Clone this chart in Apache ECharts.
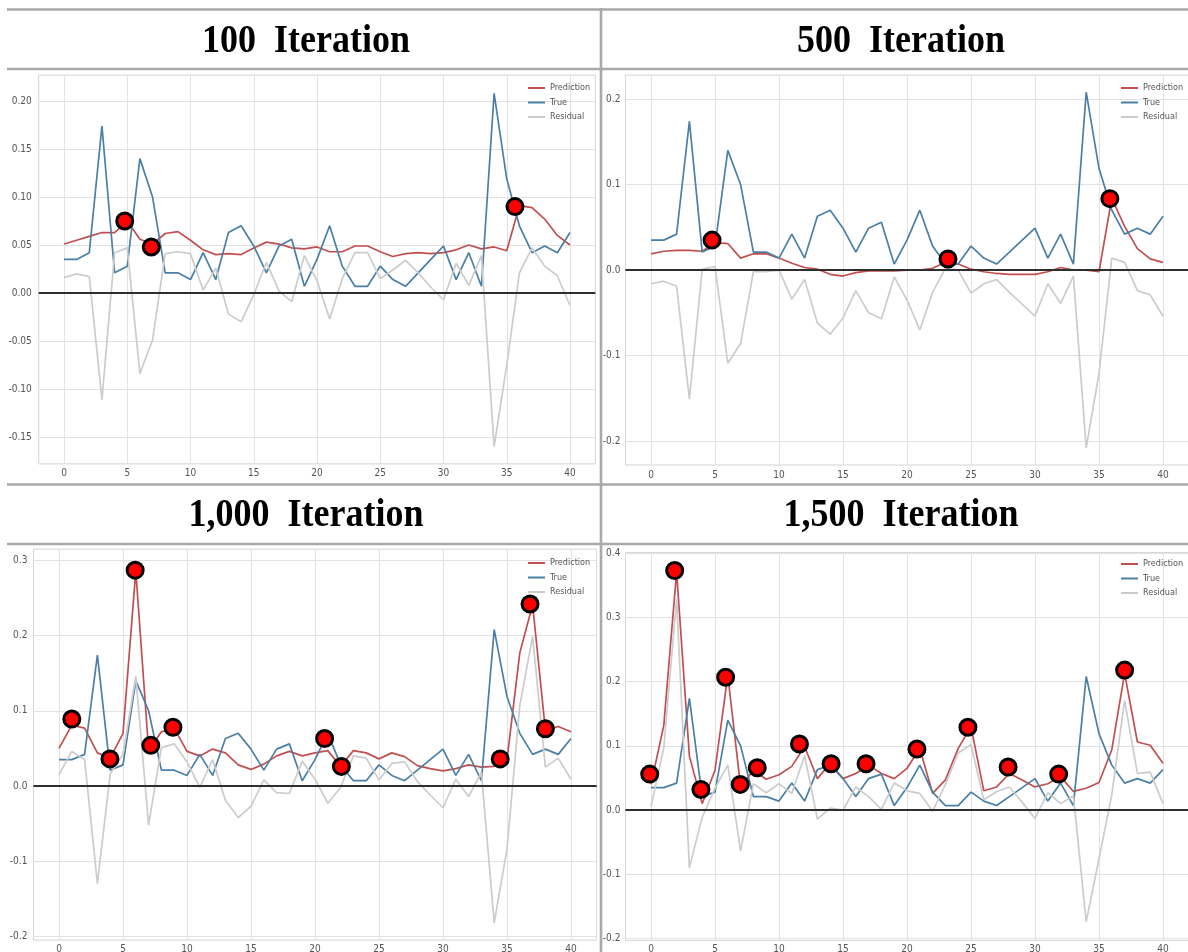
<!DOCTYPE html>
<html>
<head>
<meta charset="utf-8">
<title>Prediction vs True by iteration</title>
<script src="https://cdn.jsdelivr.net/npm/echarts@6/dist/echarts.min.js"></script>
<style>
  html, body { margin: 0; padding: 0; background: #fff; }
  #chart { width: 1188px; height: 952px; }
</style>
</head>
<body>
<div id="chart"></div>
<script>
// same test window in every panel
const trueVals = [
  0.035, 0.035, 0.042, 0.174, 0.021, 0.028, 0.140, 0.100, 0.021, 0.021,
  0.014, 0.042, 0.014, 0.063, 0.070, 0.049, 0.021, 0.049, 0.056, 0.007,
  0.035, 0.070, 0.028, 0.007, 0.007, 0.028, 0.014, 0.007, 0.021, 0.035,
  0.049, 0.014, 0.042, 0.007, 0.208, 0.119, 0.070, 0.042, 0.049, 0.042,
  0.063
]

const pred100 = [
  0.051, 0.055, 0.059, 0.063, 0.063, 0.075, 0.056, 0.051, 0.062, 0.064,
  0.055, 0.045, 0.040, 0.041, 0.040, 0.047, 0.053, 0.051, 0.047, 0.046,
  0.048, 0.043, 0.043, 0.049, 0.049, 0.043, 0.038, 0.041, 0.042, 0.041,
  0.042, 0.045, 0.050, 0.046, 0.048, 0.044, 0.091, 0.089, 0.077, 0.060,
  0.050
]
const resid100 = [
  0.016, 0.020, 0.017, -0.111, 0.042, 0.047, -0.084, -0.049, 0.041, 0.043,
  0.041, 0.003, 0.026, -0.022, -0.030, -0.002, 0.032, 0.002, -0.009, 0.039,
  0.013, -0.027, 0.015, 0.042, 0.042, 0.015, 0.024, 0.034, 0.021, 0.006,
  -0.007, 0.031, 0.008, 0.039, -0.160, -0.075, 0.021, 0.047, 0.028, 0.018,
  -0.013
]
const marks100X = [4.8, 6.9, 35.65]
const marks100Y = [0.075, 0.048, 0.090]

const pred500 = [
  0.019, 0.022, 0.023, 0.023, 0.022, 0.032, 0.031, 0.014, 0.019, 0.019,
  0.014, 0.008, 0.003, 0.001, -0.005, -0.007, -0.003, -0.001, -0.001, -0.001,
  0.000, 0.000, 0.002, 0.009, 0.007, 0.001, -0.002, -0.004, -0.005, -0.005,
  -0.005, -0.002, 0.003, 0.000, 0.000, -0.002, 0.084, 0.051, 0.025, 0.013,
  0.009
]
const resid500 = [
  -0.016, -0.013, -0.019, -0.151, 0.001, 0.004, -0.109, -0.086, -0.002, -0.002,
  0.000, -0.034, -0.011, -0.062, -0.075, -0.056, -0.024, -0.050, -0.057, -0.008,
  -0.035, -0.070, -0.026, 0.002, 0.000, -0.027, -0.016, -0.011, -0.026, -0.040,
  -0.054, -0.016, -0.039, -0.007, -0.208, -0.121, 0.014, 0.009, -0.024, -0.029,
  -0.054
]
const marks500X = [4.77, 23.2, 35.85]
const marks500Y = [0.035, 0.013, 0.0835]

const pred1000 = [
  0.050, 0.081, 0.077, 0.044, 0.037, 0.070, 0.286, 0.048, 0.072, 0.077,
  0.046, 0.040, 0.049, 0.044, 0.028, 0.022, 0.029, 0.040, 0.046, 0.040,
  0.044, 0.047, 0.026, 0.047, 0.044, 0.036, 0.044, 0.039, 0.027, 0.023,
  0.020, 0.023, 0.028, 0.025, 0.026, 0.035, 0.177, 0.241, 0.074, 0.079,
  0.072
]
const resid1000 = [
  0.015, 0.046, 0.035, -0.130, 0.016, 0.042, 0.146, -0.052, 0.051, 0.056,
  0.032, -0.002, 0.035, -0.019, -0.042, -0.027, 0.008, -0.009, -0.010, 0.033,
  0.009, -0.023, -0.002, 0.040, 0.037, 0.008, 0.030, 0.032, 0.006, -0.012,
  -0.029, 0.009, -0.014, 0.018, -0.182, -0.084, 0.107, 0.199, 0.025, 0.037,
  0.009
]
const marks1000X = [1.0, 3.98, 5.95, 7.17, 8.9, 20.75, 22.06, 34.47, 36.8, 38.0]
const marks1000Y = [0.089, 0.036, 0.287, 0.054, 0.078, 0.063, 0.026, 0.036, 0.242, 0.076]

const pred1500 = [
  0.040, 0.132, 0.371, 0.084, 0.010, 0.062, 0.210, 0.036, 0.062, 0.048,
  0.055, 0.068, 0.099, 0.049, 0.073, 0.049, 0.057, 0.070, 0.057, 0.049,
  0.065, 0.096, 0.026, 0.047, 0.096, 0.130, 0.030, 0.036, 0.057, 0.047,
  0.036, 0.041, 0.052, 0.029, 0.034, 0.043, 0.094, 0.213, 0.106, 0.101,
  0.073
]
const resid1500 = [
  0.005, 0.097, 0.329, -0.090, -0.011, 0.034, 0.070, -0.064, 0.041, 0.027,
  0.041, 0.026, 0.085, -0.014, 0.003, 0.000, 0.036, 0.021, 0.001, 0.042,
  0.030, 0.026, -0.002, 0.040, 0.089, 0.102, 0.016, 0.029, 0.036, 0.012,
  -0.013, 0.027, 0.010, 0.022, -0.174, -0.076, 0.024, 0.171, 0.057, 0.059,
  0.010
]
const marks1500X = [-0.1, 1.85, 3.9, 5.83, 6.97, 8.3, 11.6, 14.07, 16.8, 20.78, 24.76, 27.9, 31.85, 37.0]
const marks1500Y = [0.056, 0.373, 0.032, 0.207, 0.040, 0.066, 0.103, 0.072, 0.072, 0.095, 0.129, 0.067, 0.056, 0.218]

const panelTitles = ['100  Iteration', '500  Iteration', '1,000  Iteration', '1,500  Iteration']
const seriesNames = ['Prediction', 'True', 'Residual']
const xTicks = [0, 5, 10, 15, 20, 25, 30, 35, 40]
const yTicks100 = [-0.15, -0.10, -0.05, 0, 0.05, 0.10, 0.15, 0.20]
const yTicks500 = [-0.2, -0.1, 0, 0.1, 0.2]
const yTicks1000 = [-0.2, -0.1, 0, 0.1, 0.2, 0.3]
const yTicks1500 = [-0.2, -0.1, 0, 0.1, 0.2, 0.3, 0.4]

const FONT = "'Liberation Sans Narrow', 'DejaVu Sans Condensed', 'Liberation Sans', sans-serif"
const C_PRED = '#c24f50'
const C_TRUE = '#4a7fa6'
const C_RES = '#cccccc'
const C_FRAME = '#a9a9a9'

const panels = [
  { title: panelTitles[0], pred: pred100, res: resid100, mx: marks100X, my: marks100Y,
    yTicks: yTicks100, yMin: -0.178, yMax: 0.227, dec: 2,
    grid: { left: 38.7, top: 75.1, width: 556.6, height: 388.8 },
    titleAt: [306, 42], legendAt: [528, 82], xMargin: 5, yMargin: 7 },
  { title: panelTitles[1], pred: pred500, res: resid500, mx: marks500X, my: marks500Y,
    yTicks: yTicks500, yMin: -0.228, yMax: 0.228, dec: 1,
    grid: { left: 625.4, top: 75.1, width: 563.2, height: 389.9 },
    titleAt: [901, 42], legendAt: [1121, 82], xMargin: 5, yMargin: 5 },
  { title: panelTitles[2], pred: pred1000, res: resid1000, mx: marks1000X, my: marks1000Y,
    yTicks: yTicks1000, yMin: -0.205, yMax: 0.315, dec: 1,
    grid: { left: 33.4, top: 549.1, width: 563.2, height: 391 },
    titleAt: [306, 516], legendAt: [528, 557], xMargin: 4, yMargin: 6 },
  { title: panelTitles[3], pred: pred1500, res: resid1500, mx: marks1500X, my: marks1500Y,
    yTicks: yTicks1500, yMin: -0.203, yMax: 0.401, dec: 1,
    grid: { left: 625.4, top: 552.6, width: 563.2, height: 387.8 },
    titleAt: [901, 516], legendAt: [1121, 558], xMargin: 4, yMargin: 5 }
]

function fmt(v, dec) {
  const s = Math.abs(v).toFixed(dec)
  return v < 0 ? '-' + s : s
}

function lineSeries(name, data, color, k, z) {
  return {
    name,
    type: 'line',
    xAxisIndex: k,
    yAxisIndex: k,
    data: data.map((v, i) => [i, v]),
    symbol: 'none',
    showSymbol: false,
    silent: true,
    z,
    itemStyle: { color },
    lineStyle: { color, width: 1.7 },
    emphasis: { disabled: true }
  }
}

const grid = [], xAxis = [], yAxis = [], series = [], legend = [], graphic = []

panels.forEach((p, k) => {
  grid.push({
    ...p.grid,
    show: true,
    borderColor: '#d4d4d4',
    borderWidth: 1,
    backgroundColor: 'transparent',
    outerBoundsMode: 'none'
  })
  xAxis.push({
    gridIndex: k,
    type: 'value',
    min: -2,
    max: 42,
    axisLine: { show: false },
    axisTick: { show: false, customValues: xTicks },
    axisLabel: { customValues: xTicks, fontFamily: FONT, fontSize: 10, color: '#555', margin: p.xMargin },
    splitLine: { show: true, lineStyle: { color: '#e2e2e2', width: 1 } }
  })
  yAxis.push({
    gridIndex: k,
    type: 'value',
    min: p.yMin,
    max: p.yMax,
    axisLine: { show: false },
    axisTick: { show: false, customValues: p.yTicks },
    axisLabel: {
      customValues: p.yTicks,
      fontFamily: FONT, fontSize: 10, color: '#555', margin: p.yMargin,
      formatter: (v) => fmt(v, p.dec)
    },
    splitLine: { show: true, lineStyle: { color: '#e2e2e2', width: 1 } }
  })

  series.push(lineSeries('Prediction', p.pred, C_PRED, k, 2))
  series.push(lineSeries('True', trueVals, C_TRUE, k, 3))
  const res = lineSeries('Residual', p.res, C_RES, k, 4)
  res.markLine = {
    silent: true,
    symbol: 'none',
    label: { show: false },
    emphasis: { disabled: true },
    lineStyle: { color: '#2e2e2e', width: 2, type: 'solid' },
    data: [{ yAxis: 0 }]
  }
  series.push(res)
  series.push({
    type: 'scatter',
    xAxisIndex: k,
    yAxisIndex: k,
    data: p.mx.map((x, i) => [x, p.my[i]]),
    symbolSize: 16,
    silent: true,
    z: 6,
    itemStyle: { color: '#ff0000', borderColor: '#000', borderWidth: 3, opacity: 1 }
  })

  legend.push({
    data: seriesNames,
    orient: 'vertical',
    left: p.legendAt[0],
    top: p.legendAt[1],
    padding: 0,
    icon: 'rect',
    itemWidth: 17,
    itemHeight: 2,
    itemGap: 2.5,
    selectedMode: false,
    textStyle: { fontFamily: FONT, fontSize: 9, color: '#555', lineHeight: 12 }
  })

  graphic.push({
    type: 'text',
    x: p.titleAt[0],
    y: p.titleAt[1],
    scaleY: 1.1,
    silent: true,
    style: {
      text: p.title,
      font: 'bold 36px "Liberation Serif", "Times New Roman", serif',
      fill: '#000',
      align: 'center',
      verticalAlign: 'middle',
      textAlign: 'center',
      textVerticalAlign: 'middle'
    }
  })
})

// panel frame lines
const frameLines = [
  [7, 9.5, 1188, 9.5],
  [7, 69, 1188, 69],
  [7, 484.5, 1188, 484.5],
  [7, 544, 1188, 544],
  [601, 8, 601, 952]
]
frameLines.forEach(([x1, y1, x2, y2]) => {
  graphic.push({
    type: 'line',
    silent: true,
    z: 10,
    shape: { x1, y1, x2, y2 },
    style: { stroke: C_FRAME, lineWidth: 2.6 }
  })
})

const chart = echarts.init(document.getElementById('chart'))
chart.setOption({
  animation: false,
  backgroundColor: '#fff',
  grid,
  xAxis,
  yAxis,
  legend,
  series,
  graphic
})
</script>
</body>
</html>
